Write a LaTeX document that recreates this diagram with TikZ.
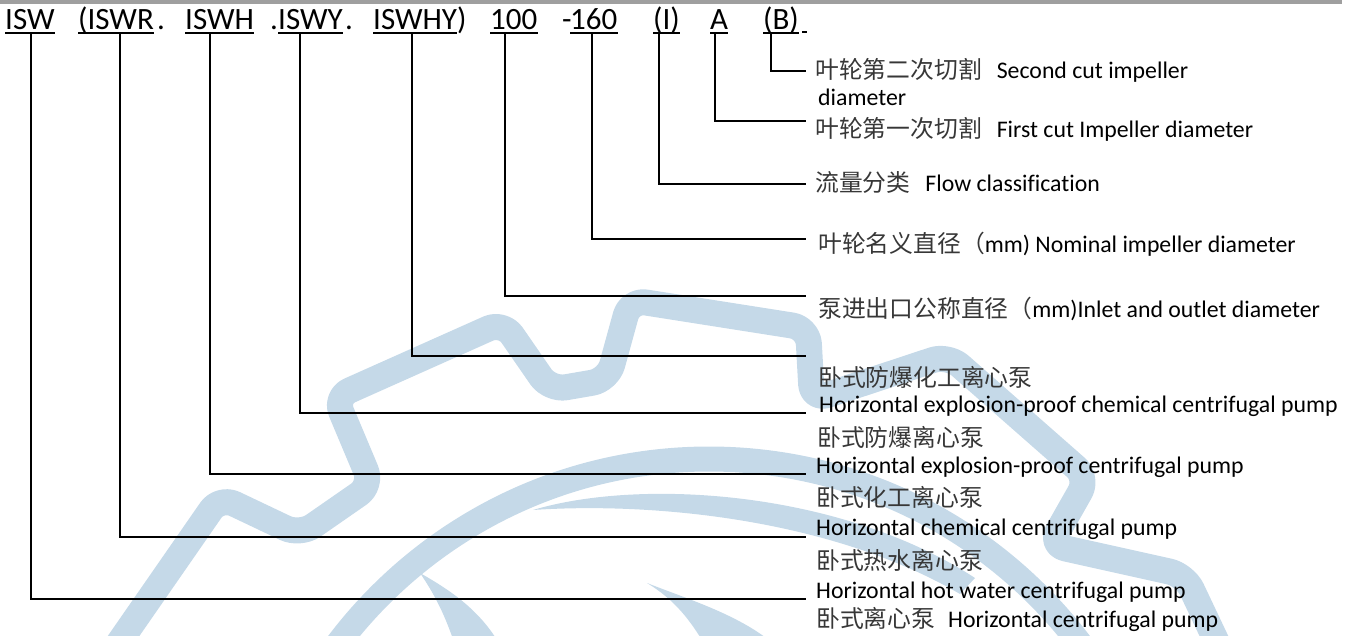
\documentclass[tikz,border=0pt]{standalone}
\usepackage{fontspec}
\setmainfont{Carlito}[Ligatures=NoCommon]
\newfontfamily\cjk{Noto Sans CJK SC}
\usetikzlibrary{calc}
\definecolor{wm}{RGB}{197,217,232}
\definecolor{cjkgray}{RGB}{55,55,55}
\begin{document}
\begin{tikzpicture}[x=1pt,y=-1pt,
  code/.style={anchor=base west,inner sep=0pt,font=\fontsize{31}{36}\selectfont},
  lab/.style={anchor=base west,inner sep=0pt,font=\fontsize{23.8}{28}\selectfont},
  conn/.style={line width=1.3pt,black},
  uline/.style={line width=1.4pt,black}]
\useasboundingbox (0,0) rectangle (1353,635);
% top rule
\fill[gray!75] (0,0) rectangle (1342,3.5);
% watermark (gear + impeller)
\begin{scope}
\clip (0,5) rectangle (1353,635);
\draw[wm,line width=26pt,rounded corners=16pt,line join=round]
  (100,670) -- (220,497) -- (300,535) -- (372,485) -- (335,397) -- (503,322)
  -- (550,390) -- (608,380) -- (630,300) -- (808,328) -- (812,400) -- (948,355)
  -- (1088,478) -- (1050,545) -- (1185,575) -- (1230,670);
\draw[wm,line width=25pt] (709,924) circle[radius=465];
\fill[wm] (533,510) .. controls (640,478) and (840,490) .. (975,578)
  -- (960,594) .. controls (830,518) and (650,502) .. (533,510) -- cycle;
\fill[wm] (420,573) .. controls (450,590) and (480,610) .. (500,645)
  -- (455,645) .. controls (445,615) and (435,595) .. (420,573) -- cycle;
\fill[wm] (647,583) .. controls (690,600) and (740,615) .. (775,645)
  -- (705,645) .. controls (690,620) and (675,600) .. (647,583) -- cycle;
\end{scope}
% codes
\node[code] (cW) at (5,29) {ISW};
\node[code] (cR) at (78,29) {(ISWR};
\node[code] (d1) at (157,29) {.};
\node[code] (cH) at (185,29) {ISWH};
\node[code] (d2) at (270,29) {.};
\node[code] (cY) at (278,29) {ISWY};
\node[code] (d3) at (345,29) {.};
\node[code] (cHY) at (373,29) {ISWHY};
\node[code] (p1) at (457,29) {)};
\node[code] (c100) at (490,29) {100};
\node[code] (m1) at (562,29) {-};
\node[code] (c160) at (570,29) {160};
\node[code] (cI) at (653,29) {(I)};
\node[code] (cA) at (710,29) {A};
\node[code] (cB) at (763,29) {(B)};
\foreach \n in {cW,cR,cH,cY,cHY,c100,c160,cI,cA,cB}
  \draw[uline] ([yshift=-4pt]\n.base west) -- ([yshift=-4pt]\n.base east);
\draw[uline] ([xshift=3pt,yshift=-3pt]cB.base east) -- ([xshift=8pt,yshift=-3pt]cB.base east);
% labels
\node[lab] (lB1) at (815,78) {{\color{cjkgray}\cjk 叶轮第二次切割}\hspace{15pt}Second cut impeller};
\node[lab] (lB2) at (818,105) {diameter};
\node[lab] (lA) at (815,137) {{\color{cjkgray}\cjk 叶轮第一次切割}\hspace{15pt}First cut Impeller diameter};
\node[lab] (lI) at (815,191) {{\color{cjkgray}\cjk 流量分类}\hspace{15pt}Flow classification};
\node[lab] (l160) at (818,252) {{\color{cjkgray}\cjk 叶轮名义直径（}mm) Nominal impeller diameter};
\node[lab] (l100) at (818,317) {{\color{cjkgray}\cjk 泵进出口公称直径（}mm)Inlet and outlet diameter};
\node[lab] (lHY1) at (818,386) {\color{cjkgray}\cjk 卧式防爆化工离心泵};
\node[lab] (lHY2) at (819,412) {Horizontal explosion-proof chemical centrifugal pump};
\node[lab] (lY1) at (817,446) {\color{cjkgray}\cjk 卧式防爆离心泵};
\node[lab] (lY2) at (816,473) {Horizontal explosion-proof centrifugal pump};
\node[lab] (lH1) at (816,506) {\color{cjkgray}\cjk 卧式化工离心泵};
\node[lab] (lH2) at (816,535) {Horizontal chemical centrifugal pump};
\node[lab] (lR1) at (816,569) {\color{cjkgray}\cjk 卧式热水离心泵};
\node[lab] (lR2) at (816,598) {Horizontal hot water centrifugal pump};
\node[lab] (lW) at (816,627) {{\color{cjkgray}\cjk 卧式离心泵}\hspace{13pt}Horizontal centrifugal pump};
% line ends
\coordinate (eB) at (806,71);
\coordinate (eA) at (806,121);
\coordinate (eI) at (806,184);
\coordinate (e160) at (806,239);
\coordinate (e100) at (806,296);
\coordinate (eHY) at (806,356);
\coordinate (eY) at (806,413);
\coordinate (eH) at (806,474);
\coordinate (eR) at (806,537);
\coordinate (eW) at (806,599);
% connectors
\draw[conn] ([xshift=8pt,yshift=-4pt]cB.base west) |- (eB);
\draw[conn] ([xshift=5pt,yshift=-4pt]cA.base west) |- (eA);
\draw[conn] ([xshift=6pt,yshift=-4pt]cI.base west) |- (eI);
\draw[conn] ([xshift=22pt,yshift=-4pt]c160.base west) |- (e160);
\draw[conn] ([xshift=15pt,yshift=-4pt]c100.base west) |- (e100);
\draw[conn] ([xshift=39pt,yshift=-4pt]cHY.base west) |- (eHY);
\draw[conn] ([xshift=22pt,yshift=-4pt]cY.base west) |- (eY);
\draw[conn] ([xshift=25pt,yshift=-4pt]cH.base west) |- (eH);
\draw[conn] ([xshift=42pt,yshift=-4pt]cR.base west) |- (eR);
\draw[conn] ([xshift=26pt,yshift=-4pt]cW.base west) |- (eW);
\end{tikzpicture}
\end{document}
